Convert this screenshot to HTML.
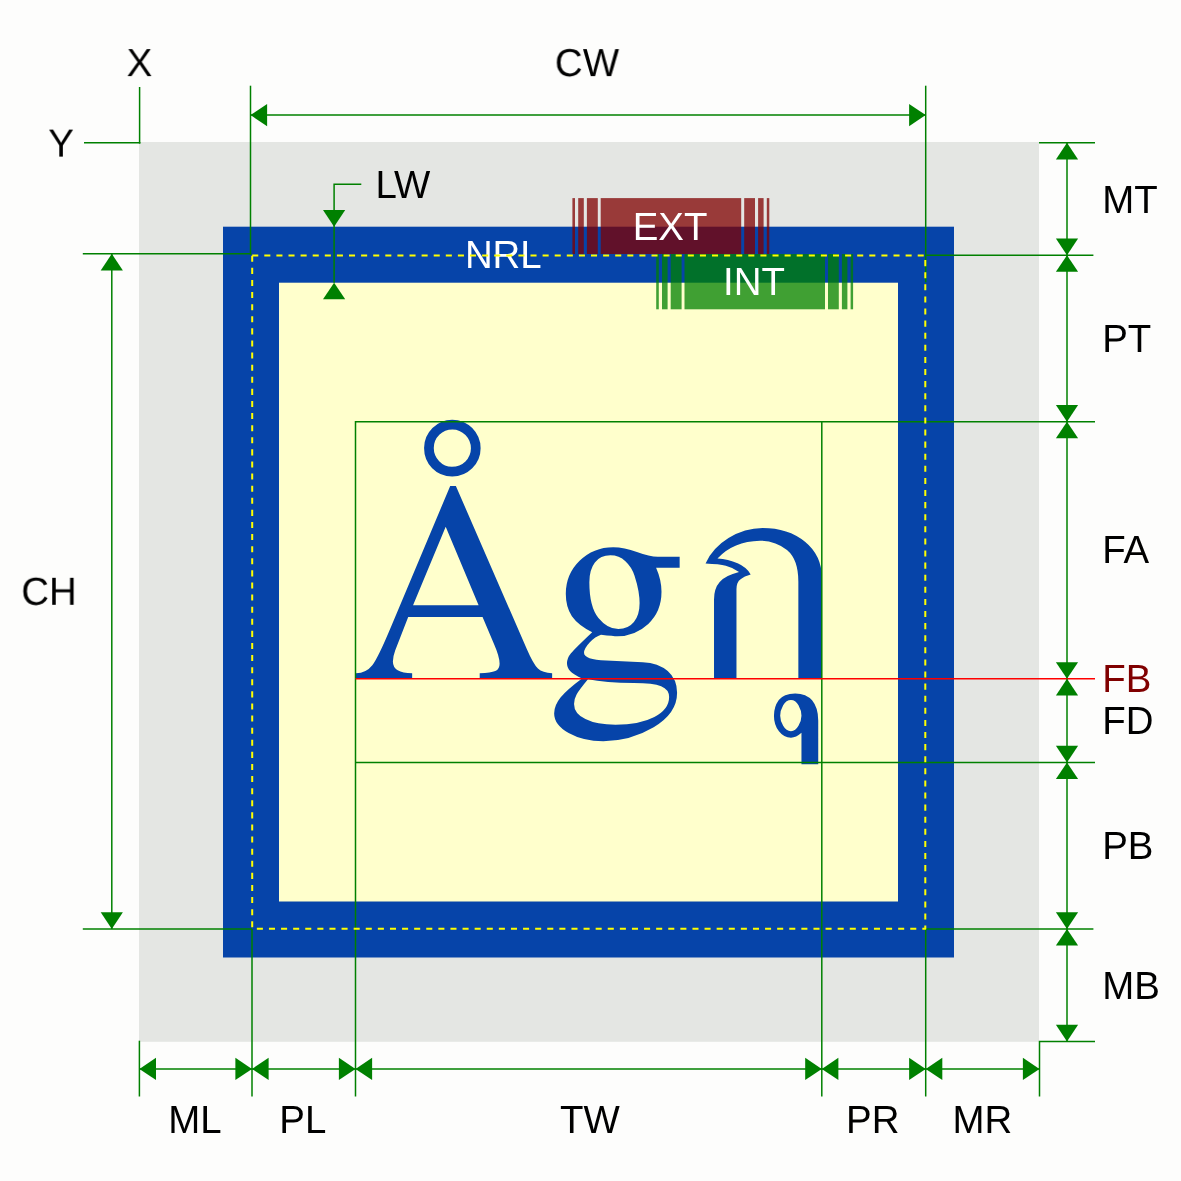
<!DOCTYPE html>
<html lang="en">
<head>
<meta charset="utf-8">
<title>Text box metrics</title>
<style>
html, body { margin: 0; padding: 0; background: #fdfdfc; }
body { width: 1181px; height: 1181px; overflow: hidden; }
svg { display: block; will-change: transform; }
.lbl text { font-family: "Liberation Sans", Arial, Helvetica, sans-serif; font-size: 39.2px; text-rendering: geometricPrecision; fill: #000; }
.big { font-family: FreeSerif, "Liberation Serif", "Noto Serif Thai", serif; font-size: 286px; fill: #0644a9; }
</style>
</head>
<body>
<svg width="1181" height="1181" viewBox="0 0 1181 1181" role="img" aria-label="Text box metrics diagram">
<rect x="139.0" y="142.0" width="900.0" height="899.8" fill="#e4e6e3"/>
<rect x="251.0" y="254.7" width="675.0" height="674.8" fill="#ffffcc" stroke="#0644a9" stroke-width="56"/>
<text class="big" transform="translate(356 0) scale(0.9925 1) translate(-356 0)" x="351.7 551.4 691.6" y="678.8">Ågกุ</text>
<g stroke="#008000" stroke-width="1.5" fill="none" stroke-linecap="butt">
<line x1="139.6" y1="87.0" x2="139.6" y2="143.6"/>
<line x1="84.0" y1="142.8" x2="140.4" y2="142.8"/>
<line x1="250.5" y1="85.7" x2="250.5" y2="254.6"/>
<line x1="925.7" y1="85.7" x2="925.7" y2="282.4"/>
<line x1="925.7" y1="928.9" x2="925.7" y2="1096.5"/>
<line x1="250.5" y1="115.1" x2="925.7" y2="115.1"/>
<line x1="82.8" y1="253.8" x2="251.3" y2="253.8"/>
<line x1="82.8" y1="928.9" x2="252.0" y2="928.9"/>
<line x1="111.8" y1="253.8" x2="111.8" y2="928.9"/>
<path d="M361.3 184.3 H334.1 V282.7"/>
<path d="M355.5 1096.5 V421.7 H1095"/>
<line x1="355.5" y1="762.4" x2="1095.0" y2="762.4"/>
<line x1="821.8" y1="421.0" x2="821.8" y2="1096.5"/>
<line x1="139.4" y1="1040.7" x2="139.4" y2="1096.5"/>
<line x1="252.0" y1="928.9" x2="252.0" y2="1096.5"/>
<line x1="139.4" y1="1068.9" x2="1039.5" y2="1068.9"/>
<path d="M1039.5 1096.5 V1041.4 H1095"/>
<line x1="1039.0" y1="142.8" x2="1095.0" y2="142.8"/>
<line x1="925.7" y1="255.2" x2="1093.4" y2="255.2"/>
<line x1="925.7" y1="928.9" x2="1093.4" y2="928.9"/>
<line x1="1067.0" y1="142.8" x2="1067.0" y2="1041.4"/>
</g>
<line x1="355.5" y1="678.8" x2="1095.0" y2="678.8" stroke="#ff0000" stroke-width="1.5"/>
<g fill="#008000">
<polygon points="250.5,115.1 267.1,104.0 267.1,126.2"/>
<polygon points="925.7,115.1 909.1,104.0 909.1,126.2"/>
<polygon points="111.8,253.8 100.7,270.4 122.9,270.4"/>
<polygon points="111.8,928.9 100.7,912.3 122.9,912.3"/>
<polygon points="334.1,226.7 323.0,210.1 345.2,210.1"/>
<polygon points="334.1,282.7 323.0,299.3 345.2,299.3"/>
<polygon points="139.4,1068.9 156.0,1057.8 156.0,1080.0"/>
<polygon points="252.0,1068.9 235.4,1057.8 235.4,1080.0"/>
<polygon points="252.0,1068.9 268.6,1057.8 268.6,1080.0"/>
<polygon points="355.5,1068.9 338.9,1057.8 338.9,1080.0"/>
<polygon points="355.5,1068.9 372.1,1057.8 372.1,1080.0"/>
<polygon points="821.8,1068.9 805.2,1057.8 805.2,1080.0"/>
<polygon points="821.8,1068.9 838.4,1057.8 838.4,1080.0"/>
<polygon points="925.7,1068.9 909.1,1057.8 909.1,1080.0"/>
<polygon points="925.7,1068.9 942.3,1057.8 942.3,1080.0"/>
<polygon points="1039.5,1068.9 1022.9,1057.8 1022.9,1080.0"/>
<polygon points="1067.0,142.8 1055.9,159.4 1078.1,159.4"/>
<polygon points="1067.0,255.2 1055.9,238.6 1078.1,238.6"/>
<polygon points="1067.0,255.2 1055.9,271.8 1078.1,271.8"/>
<polygon points="1067.0,421.7 1055.9,405.1 1078.1,405.1"/>
<polygon points="1067.0,421.7 1055.9,438.3 1078.1,438.3"/>
<polygon points="1067.0,678.8 1055.9,662.2 1078.1,662.2"/>
<polygon points="1067.0,678.8 1055.9,695.4 1078.1,695.4"/>
<polygon points="1067.0,762.4 1055.9,745.8 1078.1,745.8"/>
<polygon points="1067.0,762.4 1055.9,779.0 1078.1,779.0"/>
<polygon points="1067.0,928.9 1055.9,912.3 1078.1,912.3"/>
<polygon points="1067.0,928.9 1055.9,945.5 1078.1,945.5"/>
<polygon points="1067.0,1041.4 1055.9,1024.8 1078.1,1024.8"/>
</g>
<g fill="#800000" fill-opacity="0.75"><rect x="572.4" y="198.1" width="2.6" height="55.9"/><rect x="578.2" y="198.1" width="5.6" height="55.9"/><rect x="586.9" y="198.1" width="10.9" height="55.9"/><rect x="600.7" y="198.1" width="140.5" height="55.9"/><rect x="744.2" y="198.1" width="10.8" height="55.9"/><rect x="758.1" y="198.1" width="5.5" height="55.9"/><rect x="766.8" y="198.1" width="2.5" height="55.9"/></g>
<g fill="#008000" fill-opacity="0.75"><rect x="656.2" y="254.0" width="2.6" height="55.3"/><rect x="662.0" y="254.0" width="5.6" height="55.3"/><rect x="670.7" y="254.0" width="10.9" height="55.3"/><rect x="684.5" y="254.0" width="140.5" height="55.3"/><rect x="828.0" y="254.0" width="10.8" height="55.3"/><rect x="841.9" y="254.0" width="5.5" height="55.3"/><rect x="850.6" y="254.0" width="2.5" height="55.3"/></g>
<g class="lbl">
<text transform="translate(139.4 76.1) scale(0.980 1)" text-anchor="middle">X</text>
<text transform="translate(61.0 156.6) scale(0.980 1)" text-anchor="middle">Y</text>
<text transform="translate(587.0 76.1) scale(0.980 1)" text-anchor="middle">CW</text>
<text transform="translate(375.4 197.5) scale(0.980 1)">LW</text>
<text transform="translate(503.3 267.8) scale(0.980 1)" text-anchor="middle" style="fill:#ffffff">NRL</text>
<text transform="translate(670.0 240.2) scale(0.980 1)" text-anchor="middle" style="fill:#ffffff">EXT</text>
<text transform="translate(754.0 295.2) scale(0.980 1)" text-anchor="middle" style="fill:#ffffff">INT</text>
<text transform="translate(49.0 604.8) scale(0.980 1)" text-anchor="middle">CH</text>
<text transform="translate(1102.2 212.5) scale(0.980 1)">MT</text>
<text transform="translate(1102.2 352.2) scale(0.980 1)">PT</text>
<text transform="translate(1102.2 563.1) scale(0.980 1)">FA</text>
<text transform="translate(1102.2 691.9) scale(0.980 1)" style="fill:#800000">FB</text>
<text transform="translate(1102.2 734.0) scale(0.980 1)">FD</text>
<text transform="translate(1102.2 859.0) scale(0.980 1)">PB</text>
<text transform="translate(1102.2 999.0) scale(0.980 1)">MB</text>
<text transform="translate(194.9 1133.2) scale(0.980 1)" text-anchor="middle">ML</text>
<text transform="translate(302.8 1133.2) scale(0.980 1)" text-anchor="middle">PL</text>
<text transform="translate(589.8 1133.2) scale(0.980 1)" text-anchor="middle">TW</text>
<text transform="translate(872.7 1133.2) scale(0.980 1)" text-anchor="middle">PR</text>
<text transform="translate(982.4 1133.2) scale(0.980 1)" text-anchor="middle">MR</text>
</g>
<path d="M252.2 255.6 H925.3 V928.7 H252.2 Z" fill="none" stroke="#ffff00" stroke-width="2.0" stroke-dasharray="6.05 6.05" stroke-linejoin="round"/>
</svg>
</body>
</html>
